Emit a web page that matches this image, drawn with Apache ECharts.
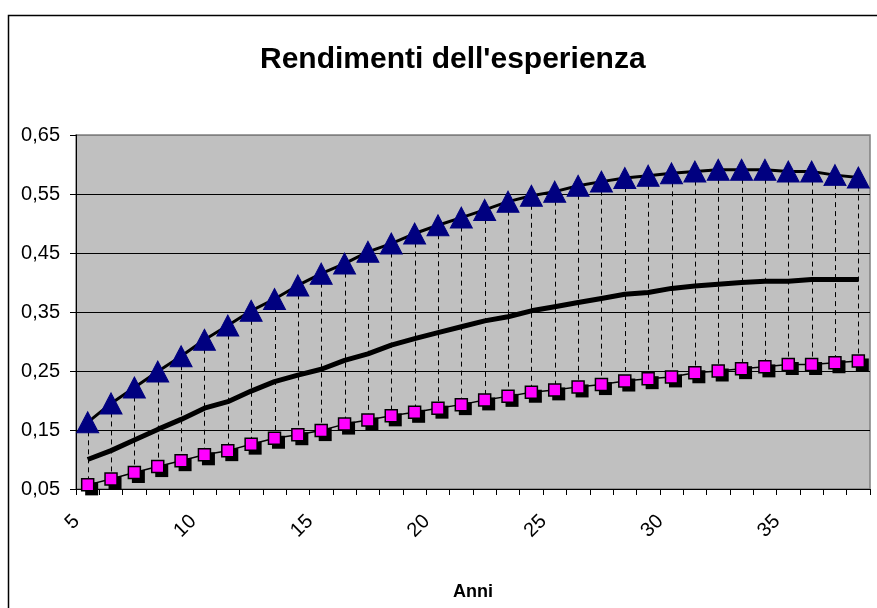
<!DOCTYPE html>
<html>
<head>
<meta charset="utf-8">
<script src="https://cdn.jsdelivr.net/npm/echarts@6/dist/echarts.min.js"></script>
<style>
html,body{margin:0;padding:0;background:#fff;}
#chart{width:877px;height:608px;}
</style>
</head>
<body>
<div id="chart"></div>
<script>
// Years of experience (categories)
const anni = [5,6,7,8,9,10,11,12,13,14,15,16,17,18,19,20,21,22,23,24,25,26,27,28,29,30,31,32,33,34,35,36,37,38];
// Upper bound (triangles)
const alto = [0.163,0.195,0.222,0.249,0.275,0.303,0.327,0.352,0.372,0.395,0.415,0.432,0.452,0.466,0.483,0.497,0.510,0.523,0.537,0.547,0.554,0.564,0.571,0.577,0.581,0.585,0.588,0.591,0.591,0.591,0.588,0.588,0.582,0.578];
// Central estimate (thick line)
const medio = [0.100,0.115,0.133,0.151,0.168,0.187,0.198,0.216,0.232,0.243,0.253,0.268,0.279,0.294,0.305,0.315,0.325,0.335,0.342,0.352,0.359,0.366,0.373,0.380,0.383,0.390,0.394,0.397,0.400,0.402,0.402,0.405,0.405,0.405];
// Lower bound (squares)
const basso = [0.057,0.067,0.078,0.088,0.098,0.108,0.115,0.126,0.136,0.142,0.149,0.160,0.167,0.174,0.180,0.187,0.193,0.201,0.207,0.214,0.218,0.223,0.227,0.233,0.237,0.240,0.247,0.250,0.254,0.257,0.261,0.261,0.264,0.267];
// Y tick labels
const yMin = 0.05, yMax = 0.65, yStep = 0.1;

const FONT = '"Liberation Sans", Arial, sans-serif';
const chart = echarts.init(document.getElementById('chart'), null, {renderer:'canvas'});

const hlData = anni.map((a, i) => [i, alto[i], basso[i]]);

chart.setOption({
  animation: false,
  backgroundColor: '#fff',
  textStyle: {fontFamily: FONT},
  graphic: [{
    type: 'rect', silent: true, z: -10,
    shape: {x: 8.5, y: 15.5, width: 950, height: 700},
    style: {fill: 'none', stroke: '#000', lineWidth: 1.5}
  }],
  title: {
    text: "Rendimenti dell'esperienza",
    left: 255, top: 40,
    textStyle: {fontFamily: FONT, fontWeight: 'bold', fontSize: 30, color: '#000'}
  },
  grid: {
    left: 76, right: 7, top: 135, bottom: 119,
    show: true, backgroundColor: '#C0C0C0', borderColor: '#808080', borderWidth: 1.5
  },
  xAxis: {
    type: 'category',
    data: anni,
    boundaryGap: true,
    name: 'Anni',
    nameLocation: 'middle',
    nameGap: 94,
    nameTextStyle: {fontFamily: FONT, fontWeight: 'bold', fontSize: 18, color: '#000'},
    axisLine: {lineStyle: {color: '#000', width: 1}},
    axisTick: {show: true, interval: 0, length: 6, alignWithLabel: false, lineStyle: {color: '#000'}},
    axisLabel: {
      interval: 4, rotate: 45, margin: 18, padding: [0, 16, 0, 0],
      fontFamily: FONT, fontSize: 20, color: '#000'
    },
    splitLine: {show: false}
  },
  yAxis: {
    type: 'value',
    min: yMin, max: yMax, interval: yStep,
    axisLine: {show: true, lineStyle: {color: '#000', width: 1}},
    axisTick: {show: true, length: 6, lineStyle: {color: '#000'}},
    axisLabel: {
      margin: 16, fontFamily: FONT, fontSize: 20, color: '#000',
      formatter: v => v.toFixed(2).replace('.', ',')
    },
    splitLine: {show: true, lineStyle: {color: ['#000','#000','#000','#000','#000','#000','#808080'], width: 1}}
  },
  series: [
    {
      type: 'custom',
      z: 1,
      data: hlData,
      encode: {x: 0, y: [1, 2]},
      renderItem: function (params, api) {
        const p1 = api.coord([api.value(0), api.value(1)]);
        const p2 = api.coord([api.value(0), api.value(2)]);
        const x = Math.round(p1[0]) + 0.5;
        return {
          type: 'line',
          shape: {x1: x, y1: p1[1], x2: x, y2: p2[1]},
          style: {stroke: '#000', lineWidth: 1, lineDash: [5, 4], fill: null}
        };
      }
    },
    {
      name: 'medio',
      type: 'line',
      z: 3,
      data: medio,
      symbol: 'none',
      lineStyle: {color: '#000', width: 5}
    },
    {
      name: 'alto',
      type: 'line',
      z: 4,
      data: alto,
      showAllSymbol: true,
      symbol: 'triangle',
      symbolSize: [22, 21],
      itemStyle: {color: '#000080', borderColor: '#000080', borderWidth: 1},
      lineStyle: {color: '#000', width: 3}
    },
    {
      name: 'basso-ombra',
      type: 'line',
      z: 5,
      data: basso,
      showAllSymbol: true,
      symbol: 'rect',
      symbolSize: 13,
      symbolOffset: [4, 4],
      itemStyle: {color: '#000', borderColor: '#000', borderWidth: 0},
      lineStyle: {color: '#000', width: 1.5}
    },
    {
      name: 'basso',
      type: 'line',
      z: 6,
      data: basso,
      showAllSymbol: true,
      symbol: 'rect',
      symbolSize: 12,
      itemStyle: {color: '#FF00FF', borderColor: '#000', borderWidth: 1.5},
      lineStyle: {width: 0, opacity: 0}
    }
  ]
});
</script>
</body>
</html>
